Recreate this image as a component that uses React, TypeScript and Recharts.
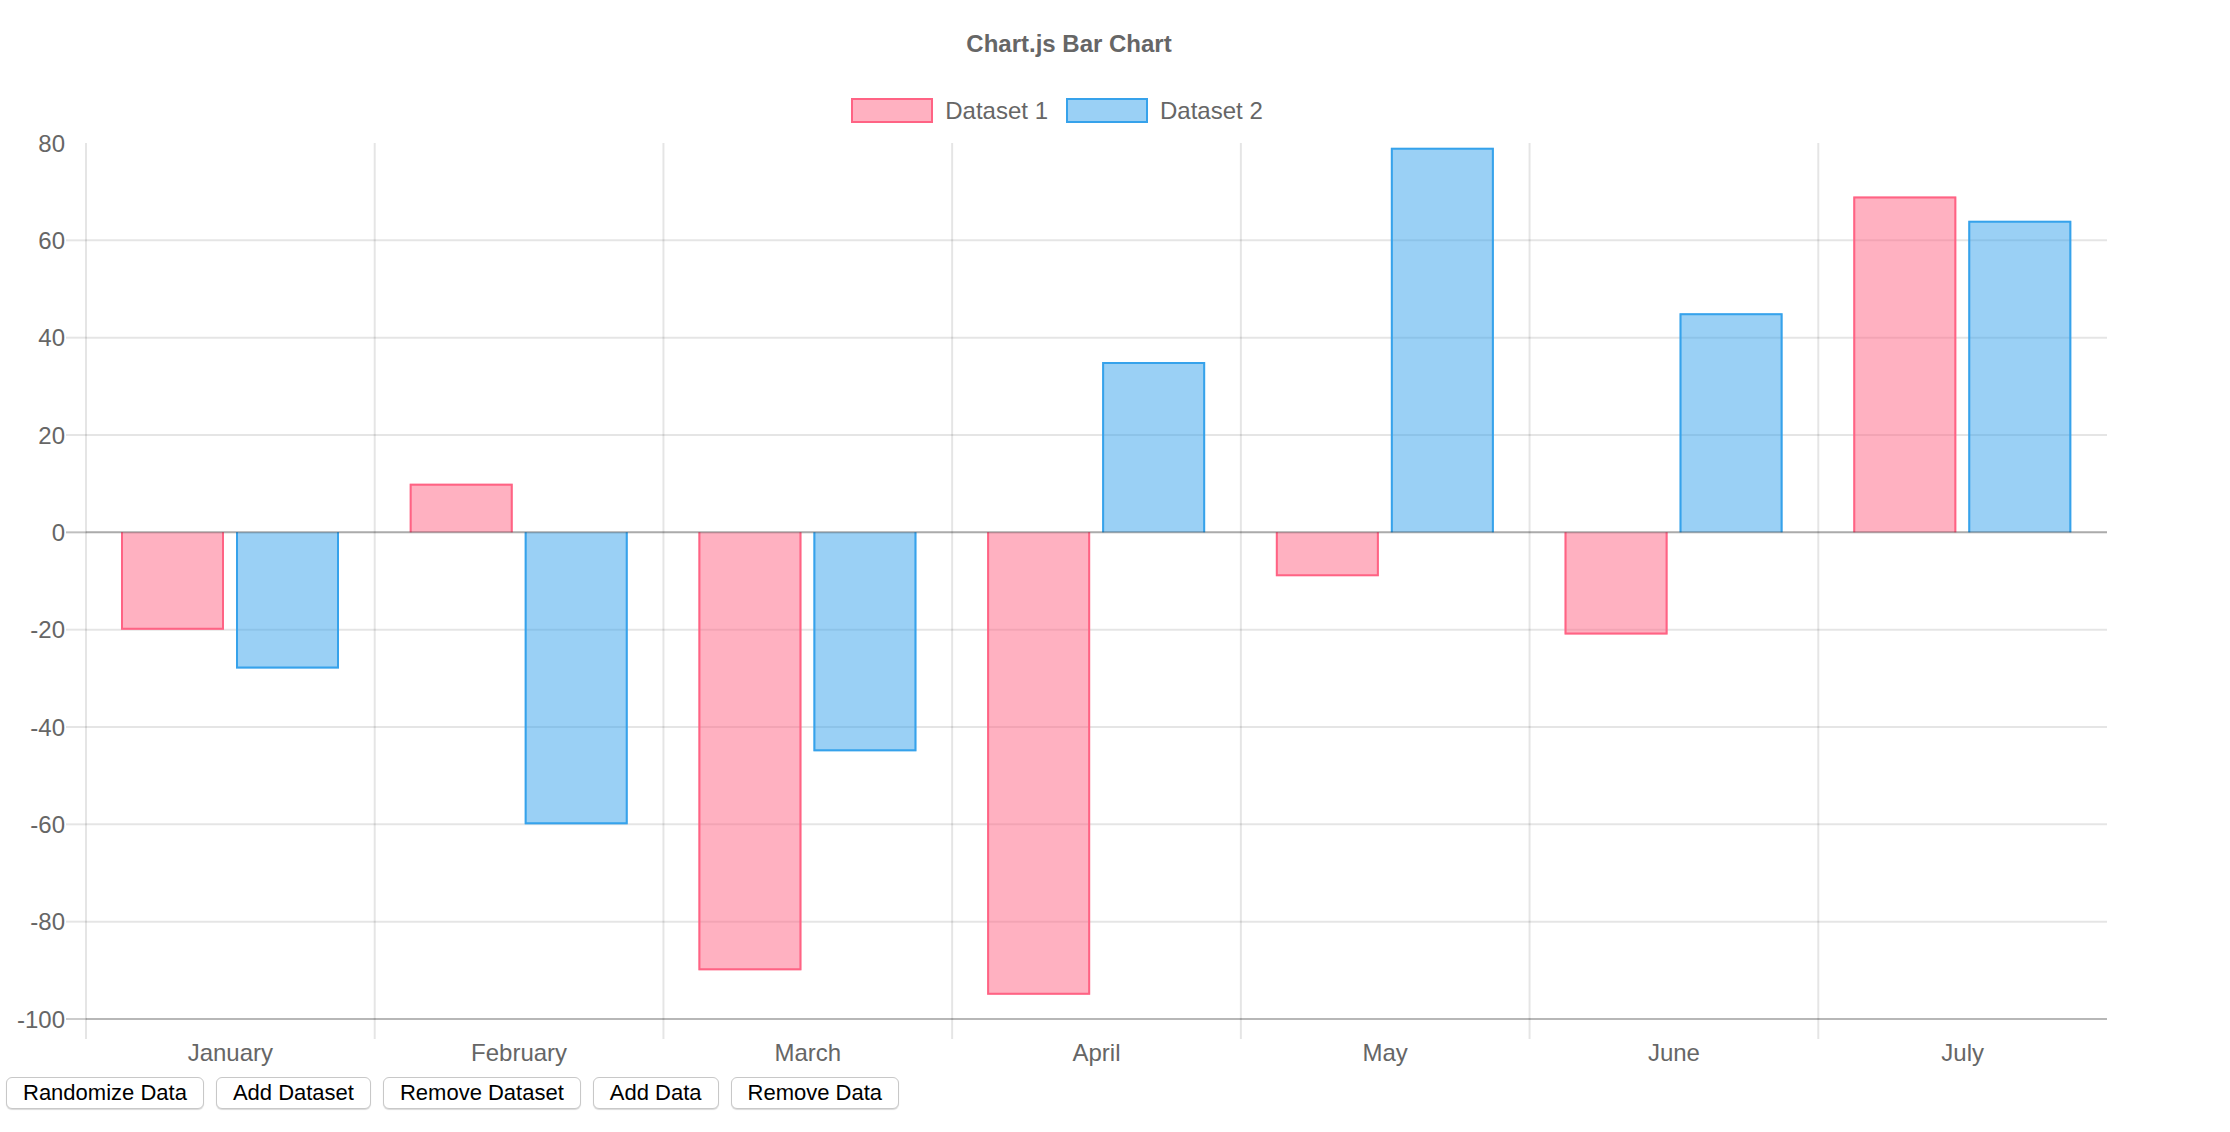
import React from "react";
import {
  BarChart,
  Bar,
  XAxis,
  YAxis,
  CartesianGrid,
  ReferenceLine,
} from "recharts";

const months = ["January", "February", "March", "April", "May", "June", "July"];
const dataset1 = [-20, 10, -90, -95, -9, -21, 69];
const dataset2 = [-28, -60, -45, 35, 79, 45, 64];
const yTicks = [-100, -80, -60, -40, -20, 0, 20, 40, 60, 80];
const buttonLabels = ["Randomize Data", "Add Dataset", "Remove Dataset", "Add Data", "Remove Data"];

const series = [
  { key: "d1", name: "Dataset 1", fill: "rgba(255, 99, 132, 0.5)", stroke: "rgb(255, 99, 132)" },
  { key: "d2", name: "Dataset 2", fill: "rgba(54, 162, 235, 0.5)", stroke: "rgb(54, 162, 235)" },
];

const data = months.map((m, i) => ({ month: m, d1: dataset1[i], d2: dataset2[i] }));

const FONT = '"Liberation Sans", Arial, Helvetica, sans-serif';
const GRID = "rgba(0,0,0,0.1)";
const ZERO = "rgba(0,0,0,0.25)";
const AXIS = "rgba(0,0,0,0.2)";

const W = 2230;
const H = 1079;
const MARGIN = { top: 143, right: 123, bottom: 0, left: 0 };
const Y_W = 86;
const Y_MIN = yTicks[0];
const Y_MAX = yTicks[yTicks.length - 1];
const BAND = (W - MARGIN.right - Y_W) / months.length;

// chart.js style bar: border on three sides, none on the base
const makeShape = (key: string, fill: string, stroke: string) => (props: any) => {
  const { x, y, width, height, payload } = props;
  const v = payload[key];
  const top = Math.min(y, y + height);
  const h = Math.abs(height);
  const l = x + 1;
  const r = x + width - 1;
  let d;
  if (v >= 0) {
    d = `M${l},${top + h} L${l},${top + 1} L${r},${top + 1} L${r},${top + h}`;
  } else {
    d = `M${l},${top} L${l},${top + h - 1} L${r},${top + h - 1} L${r},${top}`;
  }
  return (
    <g>
      <rect x={x} y={top} width={width} height={h} fill={fill} />
      <path d={d} fill="none" stroke={stroke} strokeWidth={2} />
    </g>
  );
};

const XTick = ({ x, y, payload }: any) => (
  <g>
    <line x1={x - BAND / 2} x2={x - BAND / 2} y1={y} y2={y + 20} stroke={GRID} strokeWidth={2} />
    <text
      x={x}
      y={y + 33}
      textAnchor="middle"
      dominantBaseline="central"
      fill="#666"
      fontSize={24}
      fontFamily={FONT}
    >
      {payload.value}
    </text>
  </g>
);

const YTick = ({ x, y, payload }: any) => {
  const v = payload.value;
  const c = v === 0 ? ZERO : v === Y_MIN ? AXIS : GRID;
  return (
    <g>
      {v !== Y_MAX && <line x1={x} x2={x + 20} y1={y} y2={y} stroke={c} strokeWidth={2} />}
      <text
        x={x - 1}
        y={y}
        textAnchor="end"
        dominantBaseline="central"
        fill="#666"
        fontSize={24}
        fontFamily={FONT}
      >
        {v}
      </text>
    </g>
  );
};

export default function App() {
  return (
    <div style={{ position: "relative", width: W, height: 1132, fontFamily: FONT, background: "#fff" }}>
      <style>{"body{margin:0}"}</style>
      <div
        style={{
          position: "absolute",
          left: 0,
          top: 31,
          width: 2138,
          textAlign: "center",
          fontSize: 24,
          lineHeight: "26px",
          fontWeight: "bold",
          color: "#666",
        }}
      >
        Chart.js Bar Chart
      </div>
      <div
        style={{
          position: "absolute",
          left: 0,
          top: 98,
          width: 2114,
          height: 25,
          display: "flex",
          justifyContent: "center",
          alignItems: "center",
        }}
      >
        {series.map((s, i) => (
          <div key={s.key} style={{ display: "flex", alignItems: "center", marginLeft: i ? 18 : 0 }}>
            <div
              style={{
                width: 82,
                height: 25,
                boxSizing: "border-box",
                border: `2px solid ${s.stroke}`,
                background: s.fill,
                marginRight: 12,
              }}
            />
            <span style={{ fontSize: 24, color: "#666", lineHeight: "25px" }}>{s.name}</span>
          </div>
        ))}
      </div>
      <div style={{ position: "absolute", left: 0, top: 0 }}>
        <BarChart width={W} height={H} data={data} margin={MARGIN} barCategoryGap={35} barGap={12}>
          <CartesianGrid
            stroke={GRID}
            strokeWidth={2}
            horizontalCoordinatesGenerator={({ offset }: any) =>
              yTicks
                .filter((t) => t !== Y_MAX)
                .map((t) => offset.top + ((Y_MAX - t) / (Y_MAX - Y_MIN)) * offset.height)
            }
            verticalCoordinatesGenerator={({ offset }: any) =>
              months.map((_, i) => offset.left + (i * offset.width) / months.length)
            }
          />
          <XAxis
            dataKey="month"
            interval={0}
            tickSize={0}
            tickMargin={0}
            height={H - MARGIN.top - 876}
            axisLine={{ stroke: AXIS, strokeWidth: 2 }}
            tick={<XTick />}
          />
          <YAxis
            width={Y_W}
            domain={[Y_MIN, Y_MAX]}
            ticks={yTicks}
            interval={0}
            tickSize={20}
            tickMargin={0}
            axisLine={false}
            tickLine={false}
            tick={<YTick />}
          />
          <ReferenceLine y={0} stroke={ZERO} strokeWidth={2} />
          {series.map((s) => (
            <Bar
              key={s.key}
              dataKey={s.key}
              name={s.name}
              fill={s.fill}
              stroke={s.stroke}
              shape={makeShape(s.key, s.fill, s.stroke)}
              isAnimationActive={false}
            />
          ))}
        </BarChart>
      </div>
      <div style={{ position: "absolute", left: 6, top: 1077, display: "flex", gap: 12 }}>
        {buttonLabels.map((b) => (
          <button
            key={b}
            style={{
              height: 32,
              padding: "0 16px",
              fontSize: 22,
              fontFamily: FONT,
              color: "#000",
              background: "#fff",
              border: "1px solid #c8c8c8",
              borderRadius: 6,
              boxShadow: "0 1px 1px rgba(0,0,0,0.15)",
            }}
          >
            {b}
          </button>
        ))}
      </div>
    </div>
  );
}
